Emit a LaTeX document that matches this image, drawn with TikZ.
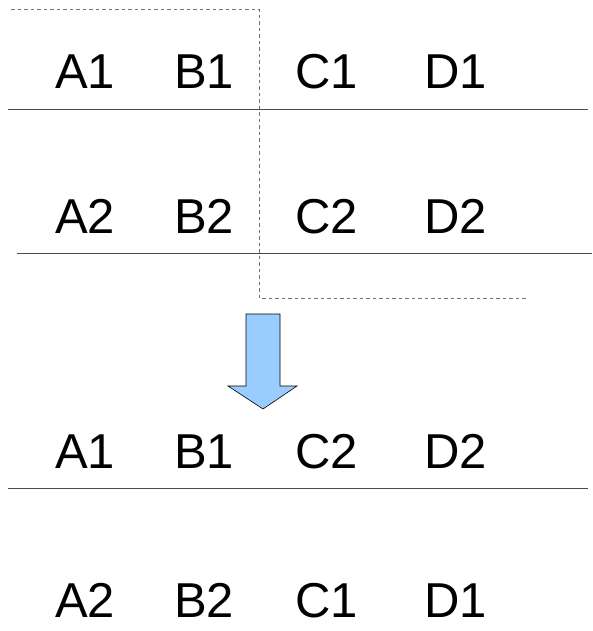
\documentclass[tikz,border=0pt]{standalone}
\usepackage{fontspec}
\setmainfont{Liberation Sans}
\begin{document}
\begin{tikzpicture}[x=1pt,y=-1pt,
  cell/.style={anchor=base west,inner sep=0pt,font=\fontsize{49}{58}\selectfont},
  rule/.style={draw=black!70,line width=1pt},
  cut/.style={draw=black!55,line width=1pt,dash pattern=on 3.5pt off 3pt},
  movearrow/.style={draw=black,line width=0.6pt,fill=blue!40!cyan!40!white}]
\useasboundingbox (0,0) rectangle (592,631);
\definecolor{arrowblue}{HTML}{99CCFF}

% first table, before the swap
\node[cell] (a1) at (55,89) {A1};
\node[cell] (b1) at (174,89) {B1};
\node[cell] (c1) at (295,89) {C1};
\node[cell] (d1) at (424,89) {D1};
\node[cell] (a2) at (55,233) {A2};
\node[cell] (b2) at (174,233) {B2};
\node[cell] (c2) at (295,233) {C2};
\node[cell] (d2) at (424,233) {D2};
\draw[rule] (8,110) -- (588,110);
\draw[rule] (17,253.5) -- (592,253.5);

% dashed outline of the block to be exchanged
\draw[cut] (11,10) -- (259.5,10) -- (259.5,298.5) -- (526,298.5);

% downward arrow
\draw[movearrow,fill=arrowblue] (246,314) -- (280,314) -- (280,386) -- (297,386)
  -- (263,409) -- (228,386) -- (246,386) -- cycle;

% second table, after the swap
\node[cell] (na1) at (55,468) {A1};
\node[cell] (nb1) at (174,468) {B1};
\node[cell] (nc2) at (295,468) {C2};
\node[cell] (nd2) at (424,468) {D2};
\node[cell] (na2) at (55,617) {A2};
\node[cell] (nb2) at (174,617) {B2};
\node[cell] (nc1) at (295,617) {C1};
\node[cell] (nd1) at (424,617) {D1};
\draw[rule] (8,488) -- (588,488);
\end{tikzpicture}
\end{document}
